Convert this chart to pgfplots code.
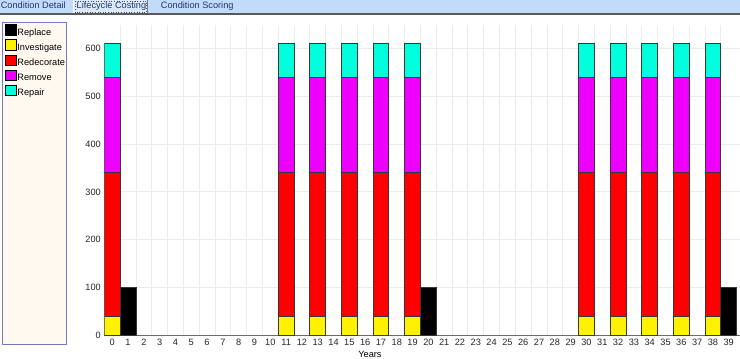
\documentclass[border=0pt]{standalone}
\usepackage{pgfplots}
\pgfplotsset{compat=1.18}
\usepackage{fontspec}
\setmainfont{Liberation Sans}
\definecolor{tabblue}{RGB}{194,219,250}
\definecolor{tabsel}{RGB}{220,233,250}
\definecolor{tabtext}{RGB}{30,55,110}
\definecolor{legborder}{RGB}{120,120,190}
\definecolor{legfill}{RGB}{255,249,240}
\definecolor{gridc}{RGB}{235,235,235}
\definecolor{cyanbar}{RGB}{0,255,221}
\definecolor{magbar}{RGB}{238,0,255}
\definecolor{barline}{RGB}{55,55,55}
\newcommand{\uifont}{\fontsize{9.2}{10}\selectfont}
\begin{document}
\begin{tikzpicture}[x=1pt,y=1pt]
\useasboundingbox (0,0) rectangle (740,359);
\fill[white] (0,0) rectangle (740,359);
% tab bar
\fill[tabblue] (0,345.5) rectangle (740,359);
\fill[tabsel] (73,345.5) rectangle (148,359);
\draw[white, line width=1pt] (73.5,345.5) -- (73.5,359);
\draw[gray, line width=0.8pt] (147.6,345.5) -- (147.6,359);
\draw[gray!60!black, dotted, line width=0.6pt] (75.5,346.8) rectangle (146,357.8);
\draw[gray!70!black, line width=1.5pt] (0,345) -- (740,345);
\node[anchor=base west, inner sep=0, font=\uifont, text=tabtext] at (0.6,350) {Condition Detail};
\node[anchor=base west, inner sep=0, font=\uifont, text=tabtext] at (76.5,350) {Lifecycle Costing};
\node[anchor=base west, inner sep=0, font=\uifont, text=tabtext] at (160.7,350) {Condition Scoring};
% legend panel
\filldraw[fill=legfill, draw=legborder, line width=1.3pt] (2.5,14.5) rectangle (66.5,336.5);
\begin{axis}[
  at={(104.3pt,23.7pt)}, anchor=south west,
  scale only axis, width=635.5pt, height=310.7pt,
  ybar stacked, bar width=1,
  xmin=-0.5, xmax=39.7, ymin=0, ymax=650,
  xtick={0,1,...,39}, ytick={0,100,...,600},
  minor xtick={0.5,1.5,...,38.5},
  xminorgrids=true, ymajorgrids=true, xmajorgrids=false,
  minor grid style={gridc, line width=0.8pt},
  major grid style={gridc, line width=0.8pt},
  axis x line*=bottom, axis y line*=left,
  y axis line style={draw=none},
  x axis line style={draw=gray!85!black, line width=1pt, -},
  major tick length=0pt, minor tick length=0pt,
  tick style={draw=none},
  ticklabel style={font=\uifont, text=black!85},
  /pgf/number format/assume math mode=true,
  xlabel={Years},
  xlabel style={at={(axis description cs:0.418,-0.062)}, anchor=center, font=\uifont},
  every axis plot/.append style={draw=barline, line width=0.8pt},
  legend image code/.code={\draw[#1,draw=black] (0pt,-2.4pt) rectangle (11.5pt,8.2pt);},
  legend cell align=left,
  legend style={at={(axis description cs:-0.157,1.002)}, anchor=north west,
    draw=none, fill=none, inner sep=0pt, font=\uifont, row sep=2.1pt,
    nodes={inner sep=0.4pt}},
]
\addplot[fill=black] coordinates {(0,0) (1,100) (11,0) (13,0) (15,0) (17,0) (19,0) (20,100) (30,0) (32,0) (34,0) (36,0) (38,0) (39,100)};
\addlegendentry{Replace}
\addplot[fill=yellow] coordinates {(0,40) (1,0) (11,40) (13,40) (15,40) (17,40) (19,40) (20,0) (30,40) (32,40) (34,40) (36,40) (38,40) (39,0)};
\addlegendentry{Investigate}
\addplot[fill=red] coordinates {(0,300) (1,0) (11,300) (13,300) (15,300) (17,300) (19,300) (20,0) (30,300) (32,300) (34,300) (36,300) (38,300) (39,0)};
\addlegendentry{Redecorate}
\addplot[fill=magbar] coordinates {(0,200) (1,0) (11,200) (13,200) (15,200) (17,200) (19,200) (20,0) (30,200) (32,200) (34,200) (36,200) (38,200) (39,0)};
\addlegendentry{Remove}
\addplot[fill=cyanbar] coordinates {(0,70) (1,0) (11,70) (13,70) (15,70) (17,70) (19,70) (20,0) (30,70) (32,70) (34,70) (36,70) (38,70) (39,0)};
\addlegendentry{Repair}
\end{axis}
\end{tikzpicture}
\end{document}
